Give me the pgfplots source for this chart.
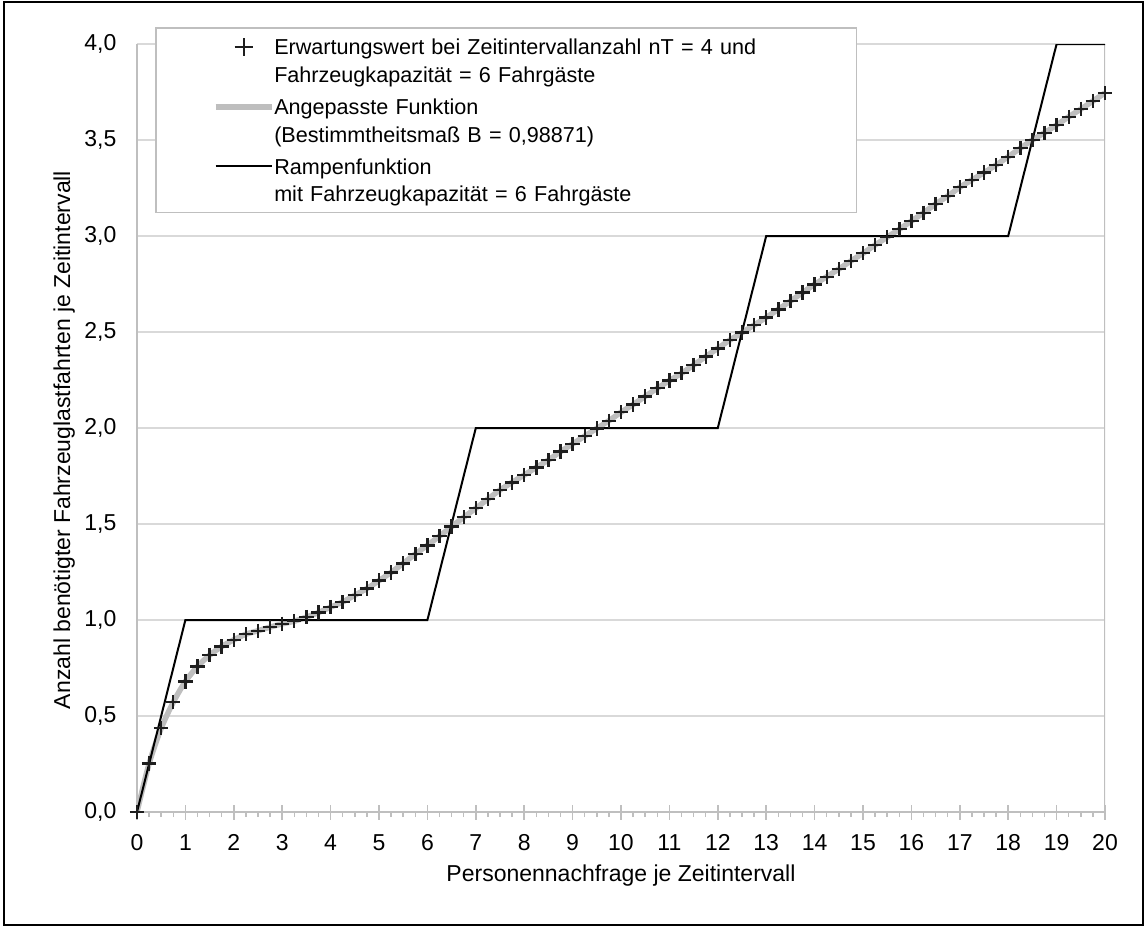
\documentclass[border=0pt]{standalone}
\usepackage{pgfplots}
\usepackage{pgfplotstable}
\pgfplotsset{compat=1.18}
\usepackage{fontspec}
\setmainfont{Liberation Sans}

\definecolor{axisgray}{RGB}{191,191,191}
\definecolor{gridgray}{RGB}{217,217,217}
\definecolor{fitgray}{RGB}{190,190,190}
\definecolor{markdark}{RGB}{30,30,30}

\newcommand\chartfont{\fontsize{11.5}{13.85}\selectfont}
\newcommand\legendfont{\fontsize{10.8}{13.85}\selectfont}

% Erwartungswert der Lastfahrten je Zeitintervall (Schrittweite 0,25)
\pgfplotstableread{
x y
0 0
0.25 0.252
0.5 0.436
0.75 0.572
1 0.680
1.25 0.758
1.5 0.817
1.75 0.862
2 0.897
2.25 0.926
2.5 0.944
2.75 0.963
3 0.980
3.25 0.994
3.5 1.015
3.75 1.039
4 1.067
4.25 1.094
4.5 1.129
4.75 1.164
5 1.205
5.25 1.248
5.5 1.295
5.75 1.344
6 1.389
6.25 1.437
6.5 1.486
6.75 1.535
7 1.582
7.25 1.630
7.5 1.677
7.75 1.717
8 1.755
8.25 1.795
8.5 1.833
8.75 1.877
9 1.917
9.25 1.958
9.5 1.998
9.75 2.038
10 2.082
10.25 2.122
10.5 2.165
10.75 2.207
11 2.247
11.25 2.285
11.5 2.328
11.75 2.372
12 2.415
12.25 2.458
12.5 2.497
12.75 2.536
13 2.576
13.25 2.618
13.5 2.661
13.75 2.705
14 2.748
14.25 2.788
14.5 2.828
14.75 2.870
15 2.910
15.25 2.953
15.5 2.994
15.75 3.035
16 3.078
16.25 3.121
16.5 3.167
16.75 3.208
17 3.254
17.25 3.292
17.5 3.330
17.75 3.370
18 3.413
18.25 3.457
18.5 3.500
18.75 3.538
19 3.578
19.25 3.621
19.5 3.661
19.75 3.703
20 3.745
}\erwartungswert

% Rampenfunktion bei Fahrzeugkapazitaet 6
\pgfplotstableread{
x y
0 0
1 1
6 1
7 2
12 2
13 3
18 3
19 4
20 4
}\rampe

\begin{document}
\begin{tikzpicture}[font=\chartfont]
\useasboundingbox (-68.5pt,-58pt) rectangle (504.5pt,406pt);
\draw[black, line width=1.2pt] (-66.5pt,-56.5pt) rectangle (503pt,405pt);
\begin{axis}[
  at={(0pt,0pt)}, anchor=south west,
  scale only axis, width=484pt, height=384pt,
  xmin=0, xmax=20, ymin=0, ymax=4,
  axis lines*=left,
  axis line style={axisgray, line width=1pt, -},
  xtick={0,1,...,20},
  minor x tick num=3,
  ytick={0,0.5,1,1.5,2,2.5,3,3.5,4},
  ytick style={draw=none},
  xtick style={axisgray, line width=0.75pt},
  tick align=center,
  major tick length=7.5pt,
  minor tick length=2.5pt,
  minor tick style={yshift=-1.25pt},
  ymajorgrids,
  grid style={gridgray, line width=0.75pt},
  tick label style={font=\chartfont},
  /pgf/number format/assume math mode=true,
  yticklabel style={xshift=-3pt, /pgf/number format/.cd, fixed, fixed zerofill, precision=1, use comma},
  xticklabel style={yshift=-4pt, /pgf/number format/.cd, fixed},
  xlabel={Personennachfrage je Zeitintervall},
  ylabel={Anzahl benötigter Fahrzeuglastfahrten je Zeitintervall},
  xlabel style={font=\chartfont, at={(axis description cs:0.5,-0.0905)}, anchor=base},
  ylabel style={font=\chartfont, at={(axis description cs:-0.0692,0.4844)}, anchor=base},
  legend image code/.code={\draw[mark repeat=2,mark phase=2,#1] plot coordinates {(0pt,0pt) (14pt,0pt) (28pt,0pt)};},
  legend cell align=left,
  legend style={at={(axis description cs:0.0186,1.0215)}, anchor=north west,
    draw=axisgray, line width=0.75pt, fill=white,
    inner xsep=28.5pt, inner ysep=3pt, row sep=3.35pt, column sep=0pt,
    nodes={inner xsep=0pt, inner ysep=0pt, text height=8pt, text depth=2.5pt,
      text width=262.5pt, align=left, font=\legendfont}},
]
\addlegendimage{only marks, mark=+, mark size=4.5pt, markdark, line width=1pt}
\addlegendentry[text height=10.3pt]{Erwartungswert bei Zeitintervallanzahl nT = 4 und}
\addlegendimage{empty legend}
\addlegendentry{Fahrzeugkapazität = 6 Fahrgäste}
\addlegendimage{fitgray, line width=2.75pt}
\addlegendentry[text height=10.1pt]{Angepasste Funktion}
\addlegendimage{empty legend}
\addlegendentry{(Bestimmtheitsmaß B = 0,98871)}
\addlegendimage{black, line width=1pt}
\addlegendentry[text height=10.1pt]{Rampenfunktion}
\addlegendimage{empty legend}
\addlegendentry{mit Fahrzeugkapazität = 6 Fahrgäste}

% rechte Begrenzung des Diagrammbereichs
\draw[axisgray, line width=1pt] (rel axis cs:1,0) -- (rel axis cs:1,1);

\addplot[fitgray, line width=2.75pt, smooth, forget plot] table[x=x, y=y] {\erwartungswert};
\addplot[black, line width=1pt, forget plot] table[x=x, y=y] {\rampe};
\addplot[only marks, mark=+, mark size=3.6pt, markdark, line width=1.2pt, forget plot] table[x=x, y=y] {\erwartungswert};
\end{axis}
\end{tikzpicture}
\end{document}
